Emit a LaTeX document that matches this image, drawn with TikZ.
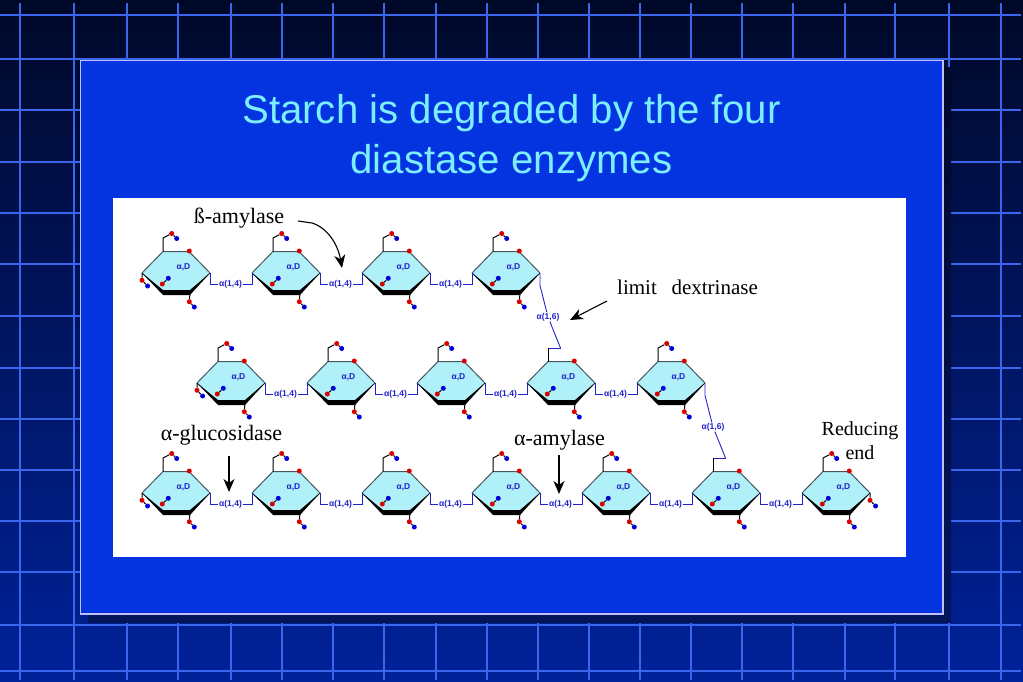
\documentclass[tikz,border=0pt]{standalone}
\usepackage{fontspec}
\setmainfont{Liberation Serif}
\setsansfont{Liberation Sans}
\usetikzlibrary{positioning}
\usetikzlibrary{arrows.meta}
\definecolor{gridline}{HTML}{3A66EE}
\definecolor{slide}{HTML}{0433E0}
\definecolor{titlecol}{HTML}{7CEEFF}
\definecolor{ringfill}{HTML}{B0F0F8}
\definecolor{linkcol}{HTML}{2222CC}
\definecolor{bgtop}{HTML}{000828}
\definecolor{bgbot}{HTML}{00229A}
\definecolor{shtop}{HTML}{000828}
\definecolor{shbot}{HTML}{04145A}
\def\sugarfont{\sffamily\bfseries\fontsize{8.5}{9}\selectfont}
\tikzset{
>=stealth,
ring/.style={draw=black!70!cyan,fill=ringfill,line width=1pt,line join=round},
wedge/.style={fill=black},
rd/.style={circle,fill=red!85!black,inner sep=0pt,minimum size=5pt},
bd/.style={circle,fill=blue!85!black,inner sep=0pt,minimum size=5pt},
bond/.style={draw=black,line width=1pt},
lnk/.style={draw=linkcol,line width=0.9pt},
lnklab/.style={inner sep=0.5pt,text=linkcol,font=\sugarfont},
call/.style={font=\fontsize{22}{26}\selectfont,inner sep=0pt},
pointer/.style={-{Stealth[length=13pt,width=11pt,inset=4pt]},black,line width=1.1pt},
}
% one sugar ring with its usual side groups
\newcommand{\sugar}[3]{
\begin{scope}[shift={(#2,#3)}]
\coordinate (#1-tl) at (-13,-20.5);
\coordinate (#1-tr) at (13,-20.5);
\coordinate (#1-r) at (34,1);
\coordinate (#1-br) at (14,20.5);
\coordinate (#1-bl) at (-13,20.5);
\coordinate (#1-l) at (-34,1);
\path[ring] (#1-tl) -- (#1-tr) -- (#1-r) -- (#1-br) -- (#1-bl) -- (#1-l) -- cycle;
\path[wedge] (#1-l) -- (-13,23) -- (14,23) -- (#1-r) -- (14,18) -- (-13,18) -- cycle;
\node[inner sep=0pt,text=linkcol,font=\sugarfont] (#1-lab) at (7.5,-4.5) {α,D};
\node[rd] (#1-a) at (13.3,-21) {};
\node[rd] (#1-b) at (-13.7,12) {};
\node[bd] (#1-c) at (-7.7,6.3) {};
\node[rd] (#1-d) at (13.3,29.7) {};
\node[bd] (#1-e) at (18.3,35) {};
\draw[bond] (#1-b) -- (#1-c);
\draw[bond] (#1-d) -- (#1-e);
\draw[bond] (#1-br) -- (#1-d);
\end{scope}
}
% the group on top of a free ring
\newcommand{\stem}[1]{
\coordinate (#1-s) at ([yshift=13.5pt]#1-tl);
\node[rd] (#1-f) at ([xshift=8.7pt,yshift=18pt]#1-tl) {};
\node[bd] (#1-g) at ([xshift=13.7pt,yshift=13pt]#1-tl) {};
\draw[bond] (#1-tl) -- (#1-s) -- (#1-f) -- (#1-g);
}
% free end on the left or on the right
\newcommand{\freeleft}[1]{
\node[rd] (#1-h) at ([yshift=-7.3pt]#1-l) {};
\node[bd] (#1-i) at ([xshift=5.6pt,yshift=-13pt]#1-l) {};
\draw[bond] (#1-l) -- (#1-h) -- (#1-i);
}
\newcommand{\freeright}[1]{
\node[rd] (#1-h) at ([yshift=-7.3pt]#1-r) {};
\node[bd] (#1-i) at ([xshift=5.6pt,yshift=-13pt]#1-r) {};
\draw[bond] (#1-r) -- (#1-h) -- (#1-i);
}
% 1,4 link between two rings
\newcommand{\linkfour}[2]{
\node[lnklab] (#1#2) at ([xshift=20.5pt,yshift=-11.5pt]#1-r) {α(1,4)};
\draw[lnk] (#1-r) |- (#1#2);
\draw[lnk] (#1#2) -| (#2-l);
}
% 1,6 link from a ring down to the stem of the next row
\newcommand{\linksix}[2]{
\coordinate (#1a) at ([yshift=-12.5pt]#1-r);
\coordinate (#1b) at ([xshift=12.5pt,yshift=13.5pt]#2-tl);
\coordinate (#1c) at ([yshift=13.5pt]#2-tl);
\node[lnklab,fill=white] (#1#2) at ([xshift=8pt,yshift=-44pt]#1-r) {α(1,6)};
\draw[lnk] (#1-r) -- (#1a) -- (#1#2) -- (#1b);
\draw[lnk] (#1b) -- (#1c);
\draw[bond] (#1c) -- (#2-tl);
}
\begin{document}
\begin{tikzpicture}[x=1pt,y=-1pt]
\useasboundingbox (0,0) rectangle (1023,682);
\shade[top color=bgtop,bottom color=bgbot] (0,0) rectangle (1023,682);
\foreach \gx in {20,74,127,178,231,282,333,384,436,487,538,589,640,691,742,793,845,895,949,1001}{
  \draw[gridline,line width=1.6pt] (\gx,3) -- (\gx,680);
}
\foreach \gy in {15,59,110,162,213,264,316,368,419,470,521,572,625,671}{
  \draw[gridline,line width=1.6pt] (0,\gy) -- (1021,\gy);
}
\shade[top color=shtop,bottom color=shbot] (88,68) rectangle (951,622);
\draw[fill=slide,draw=blue!25!white,line width=1.4pt] (80.5,60.5) rectangle (943,614);
\node[align=center,text=titlecol,inner sep=0pt,font=\sffamily\fontsize{40.2}{49.5}\selectfont] (title) at (511.5,138) {Starch is degraded by the four\\diastase enzymes};
\fill[white] (113,198) rectangle (906,557);

\foreach \nm/\cx in {a1/176,a2/286,a3/396,a4/506}{
  \sugar{\nm}{\cx}{272}
}
\foreach \nm/\cx in {b1/231,b2/341,b3/451,b4/561,b5/671}{
  \sugar{\nm}{\cx}{382}
}
\foreach \nm/\cx in {c1/176,c2/286,c3/396,c4/506,c5/616,c6/726,c7/836}{
  \sugar{\nm}{\cx}{492}
}

\foreach \nm in {a1,a2,a3,a4,b1,b2,b3,b5,c1,c2,c3,c4,c5,c7}{
  \stem{\nm}
}
\freeleft{a1}
\freeleft{b1}
\freeleft{c1}
\freeright{c7}

\linkfour{a1}{a2}
\linkfour{a2}{a3}
\linkfour{a3}{a4}
\linkfour{b1}{b2}
\linkfour{b2}{b3}
\linkfour{b3}{b4}
\linkfour{b4}{b5}
\linkfour{c1}{c2}
\linkfour{c2}{c3}
\linkfour{c3}{c4}
\linkfour{c4}{c5}
\linkfour{c5}{c6}
\linkfour{c6}{c7}
\linksix{a4}{b4}
\linksix{b5}{c6}

\node[call] (beta) at (239,218.5) {ß-amylase};
\node[call,font=\fontsize{21}{25}\selectfont] (limit) at (687.5,287.5) {limit\hspace{0.7em}dextrinase};
\node[call] (gluco) at (221.5,435.5) {α-glucosidase};
\node[call] (amyl) at (559.5,440.5) {α-amylase};
\node[align=center,inner sep=0pt,font=\fontsize{20}{24.5}\selectfont] (redu) at (860,440.5) {Reducing\\end};

\coordinate (beta-t) at (298,221);
\coordinate (beta-h) at (342,268);
\coordinate (limit-t) at (607,301);
\coordinate (limit-h) at (570,320);
\coordinate (gluco-t) at (229,456);
\coordinate (gluco-h) at (229,492);
\coordinate (amyl-t) at (559,455);
\coordinate (amyl-h) at (559,494);
\draw[pointer] (beta-t) -- (312,223) .. controls (328,228) and (338,245) .. (beta-h);
\draw[pointer] (limit-t) -- (limit-h);
\draw[pointer] (gluco-t) -- (gluco-h);
\draw[pointer] (amyl-t) -- (amyl-h);
\end{tikzpicture}
\end{document}
